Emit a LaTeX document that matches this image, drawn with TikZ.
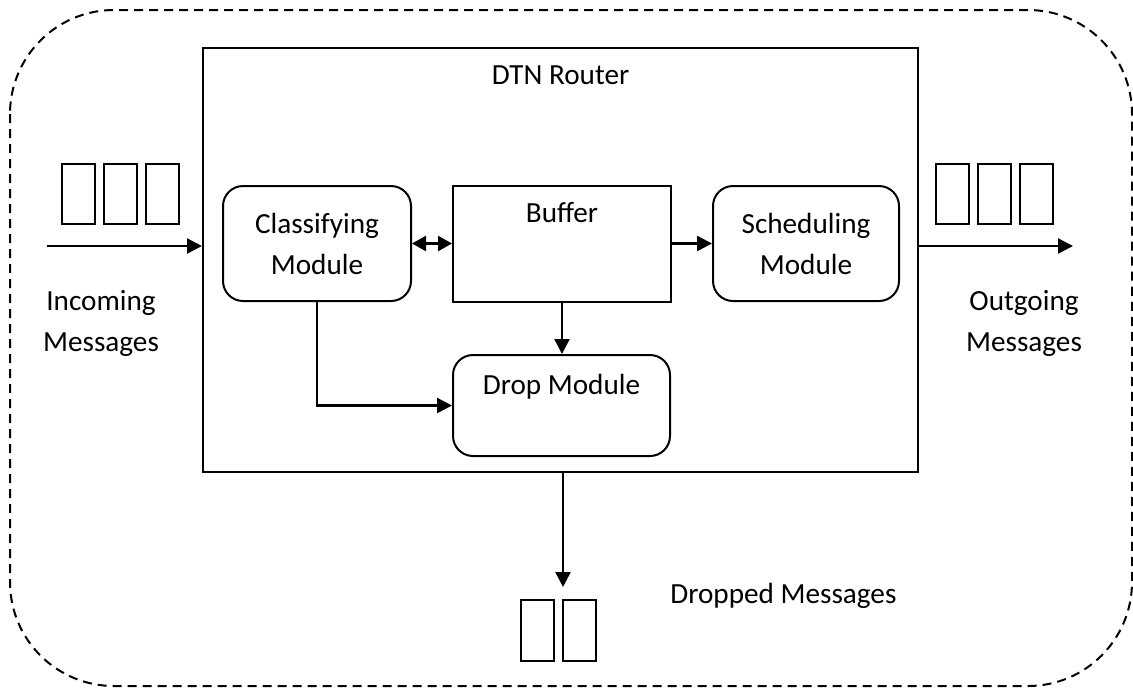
\documentclass[tikz,border=0pt]{standalone}
\usepackage{fontspec}
\setmainfont{Carlito}
\usetikzlibrary{arrows.meta}

\begin{document}
\begin{tikzpicture}[
  x=0.5pt, y=-0.5pt,
  every node/.style={font=\fontsize{14.6}{20.5}\selectfont},
  module/.style={draw, line width=1pt, rounded corners=10pt, inner sep=0pt, align=center},
  plainbox/.style={draw, line width=1pt, inner sep=0pt},
  flow/.style={line width=1.2pt, -{Triangle[length=7.5pt,width=7.5pt]}},
  msg/.style={line width=0.9pt},
  frame/.style={line width=1pt, dash pattern=on 4.5pt off 3pt, rounded corners=52pt},
  toptext/.style={anchor=base, inner sep=0pt}
]
\useasboundingbox (0,0) rectangle (1133,687);

% dashed outer boundary (runs off the right and bottom edges)
\draw[frame] (10,10) rectangle (1132,686);

% router and its modules
\node[plainbox, minimum width=357.5pt, minimum height=212pt,
      label={[toptext, yshift=-18.5pt]north:DTN Router}] (router) at (560.5,260) {};
\node[module, minimum width=94pt, minimum height=57.5pt] (classify) at (317,243.5) {Classifying\\Module};
\node[plainbox, minimum width=109pt, minimum height=58pt,
      label={[toptext, yshift=-19pt]north:Buffer}] (buffer) at (562,243.5) {};
\node[module, minimum width=93pt, minimum height=57.5pt] (sched) at (806,243.5) {Scheduling\\Module};
\node[module, minimum width=108.5pt, minimum height=50.5pt,
      label={[toptext, yshift=-20pt]north:Drop Module}] (drop) at (561.5,405.5) {};

% external labels
\node[align=center] (inlabel) at (101,323) {Incoming\\Messages};
\node[align=center] (outlabel) at (1024,323) {Outgoing\\Messages};
\node[anchor=base west, inner sep=0pt] (droplabel) at (670,603) {Dropped Messages};

% free ends of the outer connectors
\coordinate (inStart) at (47,246);
\coordinate (outEnd) at (1073,246);
\coordinate (dropEnd) at (563,587);

% connectors
\draw[flow] (inStart) -- (inStart -| router.west);
\draw[flow] (outEnd -| router.east) -- (outEnd);
\draw[flow, {Triangle[length=7pt,width=7.5pt]}-{Triangle[length=7pt,width=7.5pt]}]
  (classify.east) -- (buffer.west);
\draw[flow] (buffer.east) -- (sched.west);
\draw[flow] (buffer.south) -- (buffer.south |- drop.north);
\draw[flow] (classify.south) |- (drop.west);
\draw[flow] (dropEnd |- router.south) -- (dropEnd);

% message queues
\foreach \x in {62,104,146} \draw[msg] (\x,164) rectangle ++(33,60);
\foreach \x in {936,978,1020} \draw[msg] (\x,164) rectangle ++(33,60);
\foreach \x in {521,563} \draw[msg] (\x,600) rectangle ++(33,61);
\end{tikzpicture}
\end{document}
